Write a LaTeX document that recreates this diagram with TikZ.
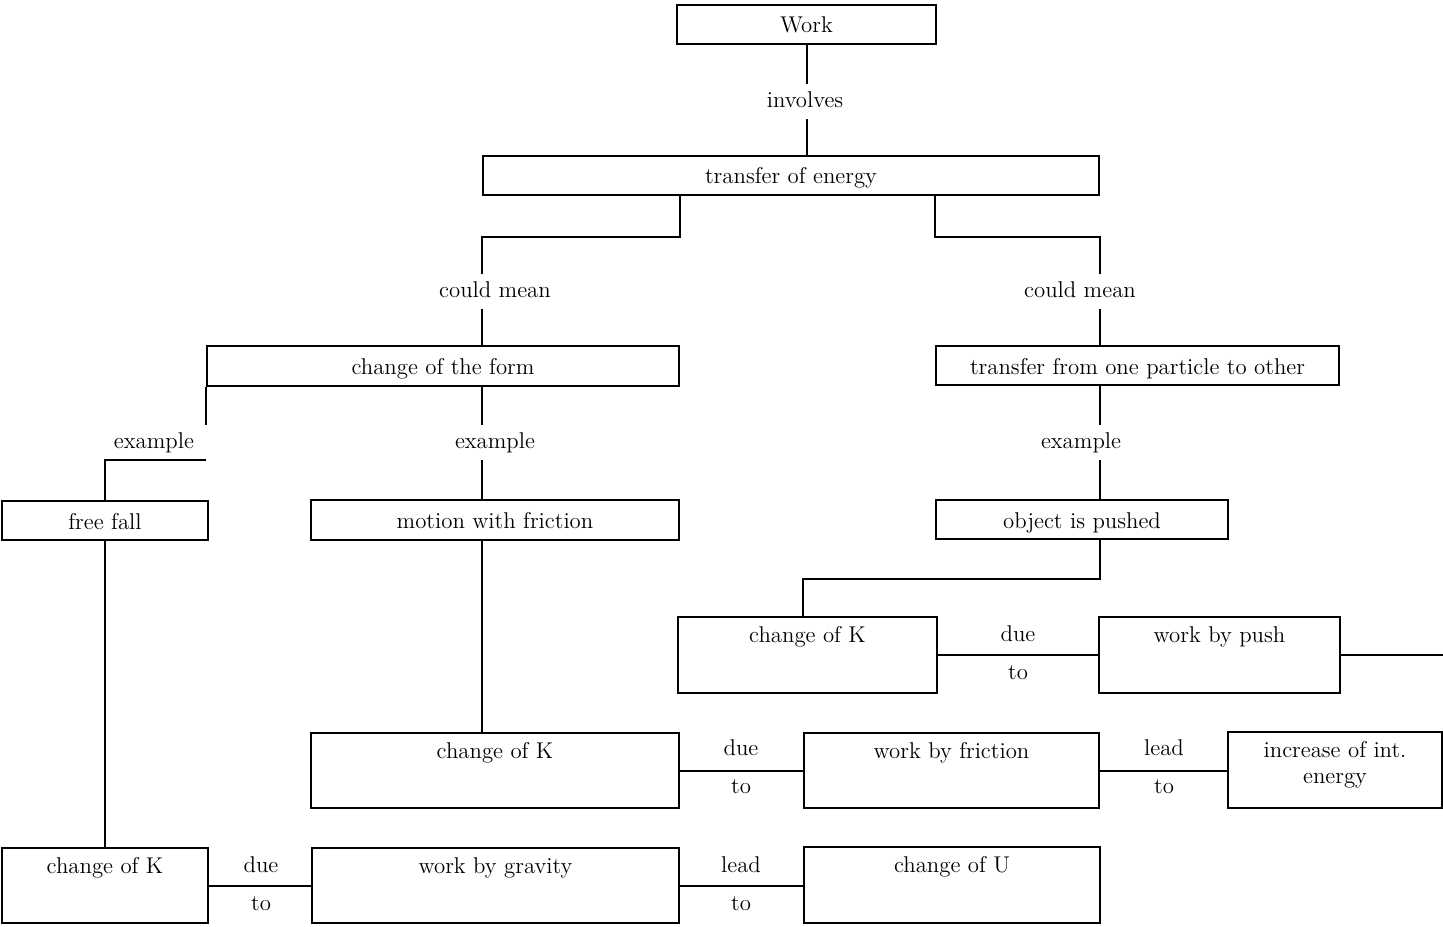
\documentclass[tikz,border=0pt]{standalone}
\begin{document}
\begin{tikzpicture}[x=0.5pt,y=-0.5pt,
  font=\fontsize{11.4}{13}\selectfont,
  box/.style={draw, line width=1pt, inner sep=0pt},
  sbox/.style={box, text height=8.5pt, text depth=0pt, minimum height=19.5pt},
  tbox/.style={box, text height=12.75pt, text depth=25pt},
  lbl/.style={inner sep=0pt, text height=11.25pt, text depth=6pt, anchor=base},
  conn/.style={line width=1pt}]
\useasboundingbox (0,0) rectangle (1443,926);
% boxes
\node[sbox, minimum width=129.5pt] (work) at (806.5,24) {Work};
\node[sbox, minimum width=308pt] (toe) at (791,175) {transfer of energy};
\node[sbox, minimum width=236pt, minimum height=20pt] (cof) at (443,366) {change of the form};
\node[sbox, minimum width=201.5pt] (tfp) at (1137.5,365.5) {transfer from one particle to other};
\node[sbox, minimum width=103pt] (ff) at (105,520.5) {free fall};
\node[sbox, minimum width=184pt, minimum height=20pt] (mwf) at (495,520) {motion with friction};
\node[sbox, minimum width=146pt] (oip) at (1082,519.5) {object is pushed};
\node[tbox, minimum width=129.5pt] (ck1) at (807.5,655) {change of K};
\node[tbox, minimum width=120.5pt] (wbp) at (1219.5,655) {work by push};
\node[tbox, minimum width=184pt] (ck2) at (495,770.5) {change of K};
\node[tbox, minimum width=147.5pt] (wbf) at (951.5,770.5) {work by friction};
\node[tbox, minimum width=107pt] (iie) at (1335,770) {\begin{tabular}[t]{@{}c@{}}increase of int.\\ energy\end{tabular}};
\node[tbox, minimum width=103pt] (ck3) at (105,885.5) {change of K};
\node[tbox, minimum width=183.5pt] (wbg) at (495.5,885.5) {work by gravity};
\node[tbox, minimum width=148pt] (cu) at (952,885) {change of U};
\coordinate (edge) at (1443,655);
% labels
\node[lbl] (inv) at (805,107) {involves};
\node[lbl] (cmL) at (495,297) {could mean};
\node[lbl] (cmR) at (1080,297) {could mean};
\node[lbl] (exL) at (154,448) {example};
\node[lbl] (exM) at (495,448) {example};
\node[lbl] (exR) at (1081,448) {example};
\node[lbl] (due1) at (1018,641) {due};
\node[lbl] (to1) at (1018,679) {to};
\node[lbl] (due2) at (741,755) {due};
\node[lbl] (to2) at (741,793) {to};
\node[lbl] (lead2) at (1164,755) {lead};
\node[lbl] (to3) at (1164,793) {to};
\node[lbl] (due3) at (261,872) {due};
\node[lbl] (to4) at (261,910) {to};
\node[lbl] (lead3) at (741,872) {lead};
\node[lbl] (to5) at (741,910) {to};
% connectors
\draw[conn] (work.south) -- (work.south |- inv.north);
\draw[conn] (work.south |- inv.south) -- (work.south |- toe.north);
\draw[conn] (toe.south -| cof.east) -- ++(0,41) -| (cmL.north -| toe.west);
\draw[conn] (cmL.south -| toe.west) -- (cof.north -| toe.west);
\draw[conn] (toe.south -| tfp.west) -- ++(0,41) -| (cmR.north -| toe.east);
\draw[conn] (cmR.south -| toe.east) -- (tfp.north -| toe.east);
\draw[conn] (cof.south west) -- (exL.north -| cof.west);
\draw[conn] (exL.south -| cof.west) -| (ff.north);
\draw[conn] (cof.south -| toe.west) -- (exM.north -| toe.west);
\draw[conn] (exM.south -| toe.west) -- (mwf.north -| toe.west);
\draw[conn] (tfp.south -| toe.east) -- (exR.north -| toe.east);
\draw[conn] (exR.south -| toe.east) -- (oip.north -| toe.east);
\draw[conn] (oip.south -| toe.east) -- ++(0,39) -| (ck1.north -| wbf.west);
\draw[conn] (ck1.east) -- (wbp.west);
\draw[conn] (wbp.east) -- (edge);
\draw[conn] (mwf.south -| toe.west) -- (ck2.north -| toe.west);
\draw[conn] (ck2.east) -- (wbf.west);
\draw[conn] (wbf.east) -- (iie.west |- wbf.east);
\draw[conn] (ff.south) -- (ck3.north);
\draw[conn] (ck3.east) -- (wbg.west |- ck3.east);
\draw[conn] (wbg.east) -- (cu.west |- wbg.east);
\end{tikzpicture}
\end{document}
